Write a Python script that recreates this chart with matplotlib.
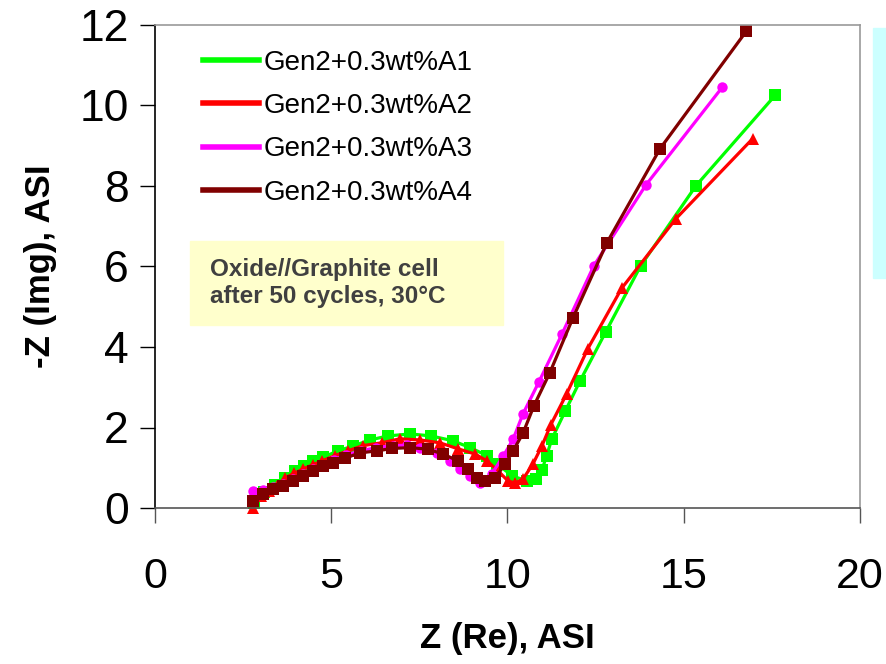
import matplotlib
matplotlib.use("Agg")
import matplotlib.pyplot as plt
from matplotlib.lines import Line2D
from matplotlib.patches import Rectangle

plt.rcParams['font.family'] = ['Liberation Sans', 'DejaVu Sans']

# Data (Nyquist plots)
labels = ['Gen2+0.3wt%A1', 'Gen2+0.3wt%A2', 'Gen2+0.3wt%A3', 'Gen2+0.3wt%A4']
colors = ['#00FF00', '#FF0000', '#FF00FF', '#800000']
markers = ['s', '^', 'o', 's']

a1_x = [2.8, 3.1, 3.4, 3.7, 3.97, 4.22, 4.48, 4.77, 5.19, 5.62, 6.1, 6.6, 7.24, 7.84, 8.45,
        8.94, 9.42, 9.7, 10.13, 10.55, 10.81, 10.98, 11.11, 11.26, 11.64, 12.06, 12.79,
        13.78, 15.35, 17.59]
a1_y = [0.12, 0.4, 0.58, 0.75, 0.92, 1.04, 1.17, 1.26, 1.42, 1.54, 1.69, 1.79, 1.84, 1.79,
        1.67, 1.5, 1.3, 1.1, 0.8, 0.67, 0.72, 0.95, 1.3, 1.72, 2.41, 3.16, 4.38, 6.02, 8.01,
        10.25]

a2_x = [2.78, 3.0, 3.22, 3.45, 3.69, 3.95, 4.2, 4.47, 4.74, 5.1, 5.47, 5.9, 6.43, 6.95, 7.52,
        8.08, 8.6, 9.08, 9.42, 9.73, 10.02, 10.22, 10.44, 10.72, 10.98, 11.23, 11.68, 12.28,
        13.24, 14.78, 16.96]
a2_y = [0.0, 0.3, 0.42, 0.55, 0.75, 0.86, 0.97, 1.07, 1.17, 1.3, 1.42, 1.55, 1.62, 1.72, 1.69,
        1.62, 1.47, 1.34, 1.17, 0.92, 0.67, 0.62, 0.72, 1.09, 1.55, 2.07, 2.84, 3.96, 5.46,
        7.19, 9.18]

a3_x = [2.78, 3.07, 3.35, 3.63, 3.91, 4.2, 4.49, 4.77, 5.08, 5.43, 5.83, 6.28, 6.74, 7.14,
        7.52, 8.0, 8.37, 8.65, 8.94, 9.22, 9.55, 9.88, 10.16, 10.44, 10.89, 11.55, 12.45,
        13.93, 16.09]
a3_y = [0.42, 0.45, 0.52, 0.6, 0.72, 0.85, 0.97, 1.08, 1.2, 1.32, 1.42, 1.5, 1.55, 1.56, 1.5,
        1.37, 1.17, 0.97, 0.8, 0.62, 0.84, 1.29, 1.71, 2.34, 3.13, 4.33, 6.02, 8.03, 10.45]

a4_x = [2.79, 3.07, 3.35, 3.63, 3.91, 4.2, 4.49, 4.77, 5.05, 5.39, 5.82, 6.3, 6.73, 7.24,
        7.75, 8.17, 8.6, 8.88, 9.13, 9.37, 9.65, 9.93, 10.16, 10.44, 10.75, 11.2, 11.86,
        12.82, 14.33, 16.77]
a4_y = [0.17, 0.35, 0.47, 0.55, 0.67, 0.8, 0.92, 1.04, 1.12, 1.24, 1.37, 1.42, 1.48, 1.5,
        1.46, 1.34, 1.17, 0.97, 0.75, 0.67, 0.75, 1.09, 1.42, 1.86, 2.54, 3.36, 4.73, 6.59,
        8.93, 11.84]

series = [(a1_x, a1_y), (a2_x, a2_y), (a3_x, a3_y), (a4_x, a4_y)]
msizes = [8, 9, 7.5, 8]

W, H = 887, 664
fig = plt.figure(figsize=(W / 100, H / 100), dpi=100)

# light cyan panel at the right edge
fig.patches.append(Rectangle((873 / W, 1 - 278 / H), 20 / W, 250 / H,
                             transform=fig.transFigure, color='#CCFFFF', zorder=0))

ax = fig.add_axes([155 / W, 1 - 508 / H, 705 / W, 483 / H])

for (x, y), c, m, ms in zip(series, colors, markers, msizes):
    ax.plot(x, y, color=c, marker=m, markersize=ms, linewidth=2.3,
            markeredgewidth=0, clip_on=False)

ax.set_xlim(0, 20)
ax.set_ylim(0, 12)
ax.set_xticks([0, 5, 10, 15, 20])
ax.set_yticks([0, 2, 4, 6, 8, 10, 12])

ax.spines['left'].set_color('black')
ax.spines['bottom'].set_color('#555555')
ax.spines['top'].set_color('#999999')
ax.spines['right'].set_color('#999999')
for s in ax.spines.values():
    s.set_linewidth(1.2)

ax.tick_params(axis='x', direction='out', length=11, width=1, color='#555555',
               labelsize=31, pad=24)
ax.tick_params(axis='y', direction='out', length=11, width=1, color='black',
               labelsize=32, pad=8)

ax.set_xlabel('Z (Re), ASI', fontsize=25, fontweight='bold', labelpad=18)
ax.set_ylabel('-Z (Img), ASI', fontsize=25, fontweight='bold', labelpad=16)

# legend shows lines only
handles = [Line2D([], [], color=c, linewidth=4) for c in colors]
ax.legend(handles, labels, loc='upper left', bbox_to_anchor=(178 / W, 1 - 25 / H),
          bbox_transform=fig.transFigure, frameon=False, fontsize=20,
          handlelength=2.0, handletextpad=0.2, labelspacing=0.62)

# annotation box
fig.patches.append(Rectangle((190 / W, 1 - 325 / H), 313 / W, 84 / H,
                             transform=fig.transFigure, color='#FFFFCC', zorder=1))
fig.text(210 / W, 1 - 283 / H, 'Oxide//Graphite cell\nafter 50 cycles, 30\u00b0C',
         fontsize=17.5, fontweight='bold', color='#404040', va='center', ha='left',
         linespacing=1.2, zorder=2)

fig.savefig('out.png', dpi=100)
